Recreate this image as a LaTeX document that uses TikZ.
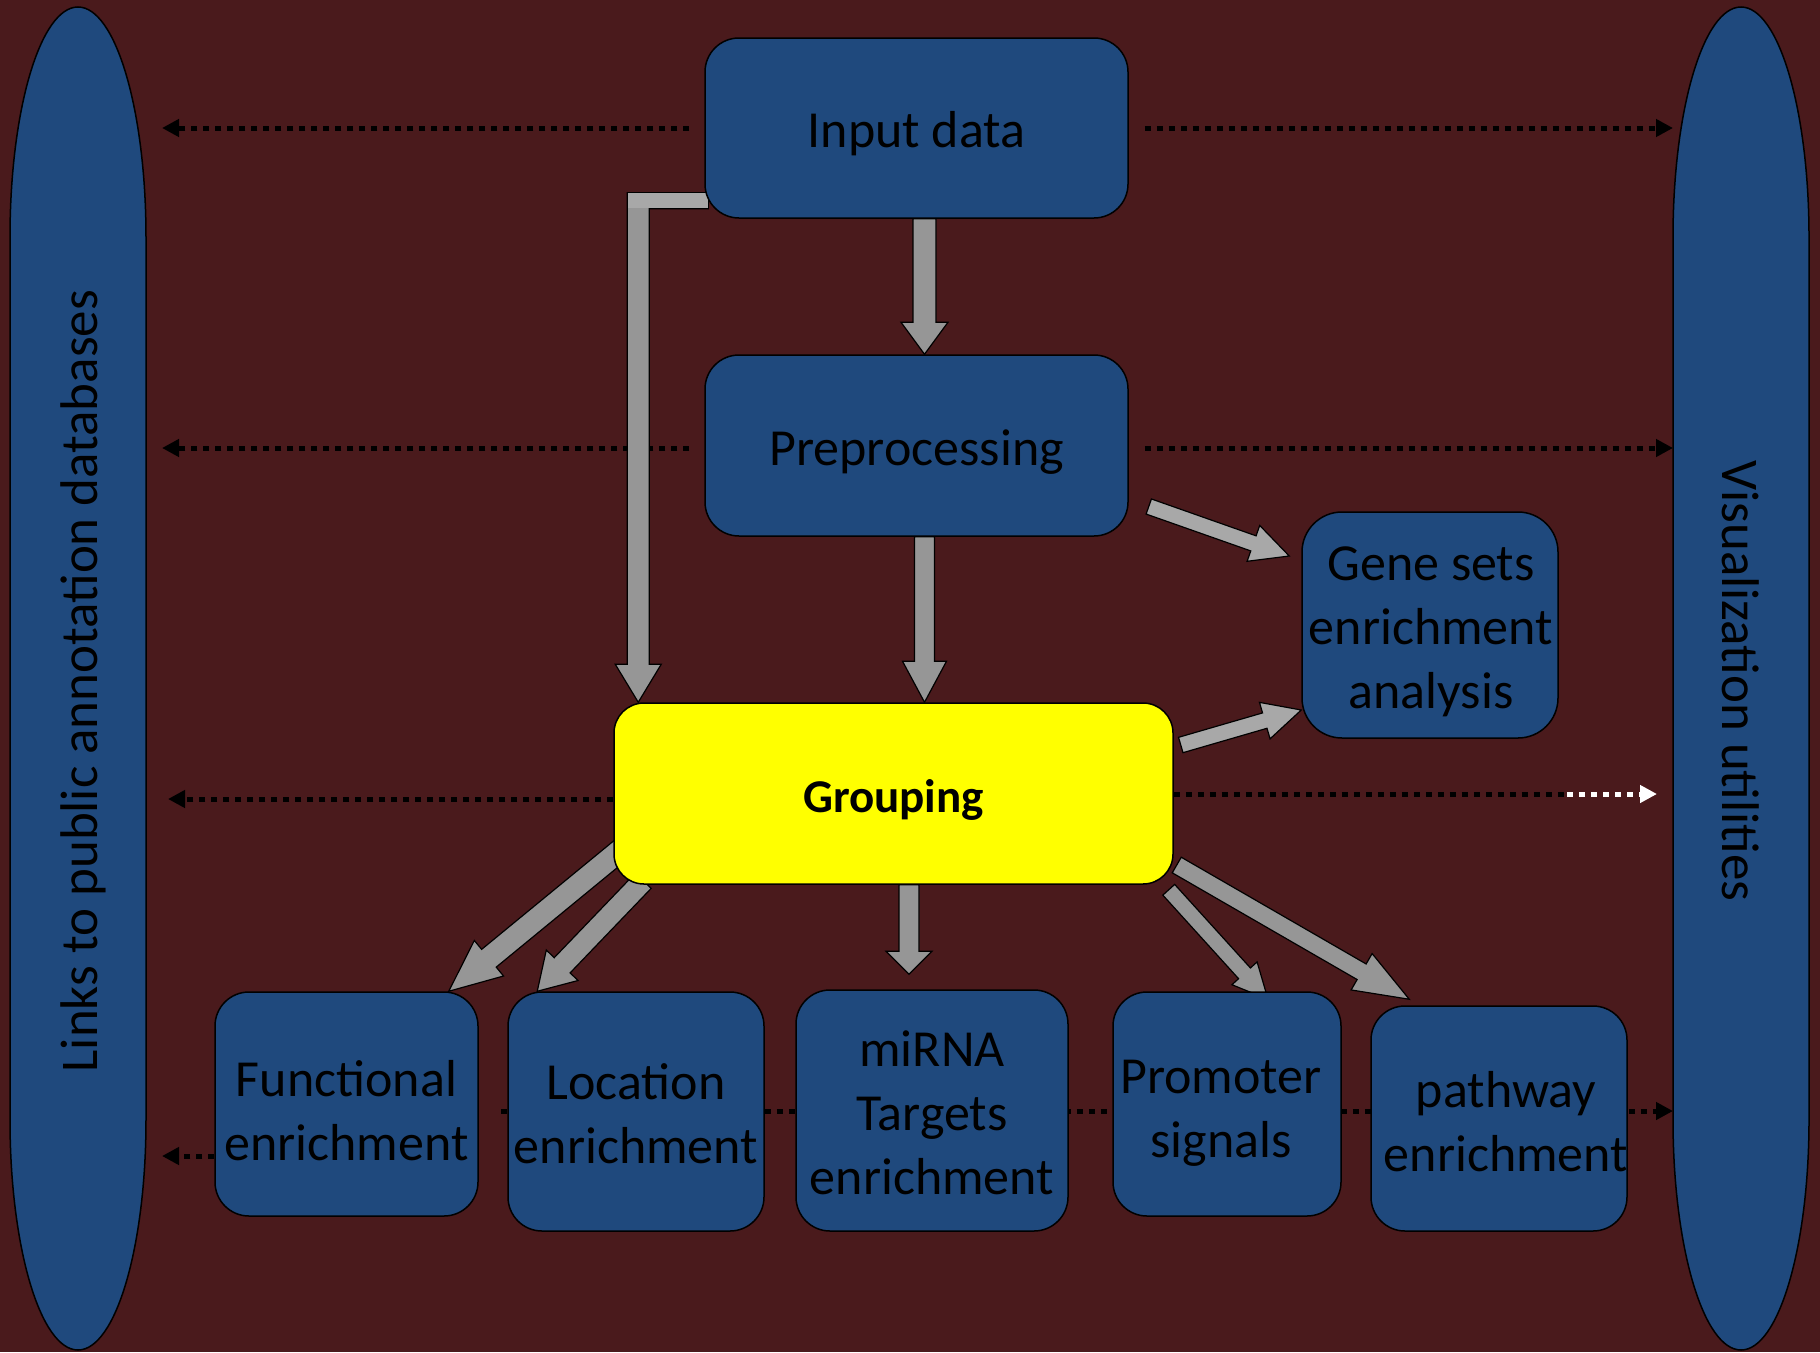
\documentclass[tikz,border=0pt]{standalone}
\usepackage{fontspec}
\setmainfont{Carlito}
\usetikzlibrary{calc,arrows.meta}

\definecolor{bgred}{HTML}{4A1A1C}
\definecolor{boxblue}{HTML}{1F497D}
\definecolor{arrgray}{HTML}{969696}
\definecolor{arrlight}{HTML}{A8A8A8}
\definecolor{grpyellow}{HTML}{FFFF00}

\pgfdeclarelayer{bg}
\pgfdeclarelayer{links}
\pgfsetlayers{bg,links,main}

\newcommand\boxfont{\fontsize{52}{64}\selectfont}
\newcommand\sidefont{\fontsize{53}{64}\selectfont}
\newcommand\grpfont{\fontsize{47}{56}\selectfont\bfseries}

% Block arrow: [fill] {shaft half width}{head half width}{head length}{tail}{tip}
\newcommand\blockarrow[6][arrgray]{%
  \coordinate (baT) at #5;
  \coordinate (baP) at #6;
  \coordinate (baH) at ($(baP)!#4!(baT)$);
  \filldraw[fill=#1, draw=black, line width=1.2pt, line join=miter]
    ($(baT)!#2!90:(baP)$) -- ($(baH)!#2!90:(baP)$) -- ($(baH)!#3!90:(baP)$)
    -- (baP)
    -- ($(baH)!#3!-90:(baP)$) -- ($(baH)!#2!-90:(baP)$) -- ($(baT)!#2!-90:(baP)$)
    -- cycle;
}

\begin{document}
\begin{tikzpicture}[x=1pt, y=-1pt,
  box/.style={draw=black, line width=1.5pt, fill=boxblue, rounded corners=34pt, inner sep=0pt},
  grpbox/.style={box, fill=grpyellow, rounded corners=30pt},
  lbl/.style={align=center, inner sep=0pt, font=\boxfont, text=black},
  grplbl/.style={lbl, font=\grpfont},
  sidebar/.style={fill=boxblue, draw=black, line width=1.5pt},
  sidetext/.style={font=\sidefont, text=black, inner sep=0pt},
  dotline/.style={line width=5pt, dash pattern=on 6pt off 6pt, line cap=butt},
  dottip/.style={-{Triangle[length=17pt,width=17pt]}},
]
\useasboundingbox (0,0) rectangle (1820,1352);

% background and the two side bars
\begin{pgfonlayer}{bg}
  \fill[bgred] (0,0) rectangle (1820,1352);
  \filldraw[sidebar] (146,237) arc[start angle=0, end angle=180, x radius=68pt, y radius=230pt]
    -- (10,1120) arc[start angle=180, end angle=360, x radius=68pt, y radius=230pt] -- cycle;
  \filldraw[sidebar] (1809,237) arc[start angle=0, end angle=180, x radius=68pt, y radius=230pt]
    -- (1673,1120) arc[start angle=180, end angle=360, x radius=68pt, y radius=230pt] -- cycle;
  \node[sidetext, rotate=90] (lnk) at (83,681) {Links to public annotation databases};
  \node[sidetext, rotate=-90] (vis) at (1741,681) {Visualization utilities};
\end{pgfonlayer}

% free ends of the dotted links at the side bars
\coordinate (L1) at (162,128);
\coordinate (L2) at (162,448);
\coordinate (L3) at (168,799);
\coordinate (L4) at (162,1156);
\coordinate (R1) at (1673,128);
\coordinate (R2) at (1673,448);
\coordinate (R3) at (1657,794);
\coordinate (R3w) at (1567,794);
\coordinate (R4) at (1673,1111);

% process boxes
\node[box, minimum width=423pt, minimum height=180pt] (inp) at (916.5,128) {};
\node[box, minimum width=423pt, minimum height=181pt] (pre) at (916.5,445.5) {};
\node[box, minimum width=256pt, minimum height=226pt, rounded corners=40pt] (gsea) at (1430,625) {};
\node[grpbox, minimum width=559pt, minimum height=181pt] (grp) at (893.5,793.5) {};
\node[box, minimum width=263pt, minimum height=224pt] (fun) at (346.5,1104) {};
\node[box, minimum width=256pt, minimum height=239pt] (loc) at (636,1111.5) {};
\node[box, minimum width=272pt, minimum height=241pt] (mir) at (932,1110.5) {};
\node[box, minimum width=228pt, minimum height=224pt] (pro) at (1227,1104) {};
\node[box, minimum width=256pt, minimum height=225pt] (pat) at (1499,1118.5) {};

% box texts
\node[lbl] (inpT) at ($(inp)+(0,6)$) {Input data};
\node[lbl] (preT) at ($(pre)+(0,7)$) {Preprocessing};
\node[lbl] (gseaT) at ($(gsea)+(1,7)$) {Gene sets\\enrichment\\analysis};
\node[grplbl] (grpT) at ($(grp)+(0,6)$) {Grouping};
\node[lbl] (funT) at ($(fun)+(0,7)$) {Functional\\enrichment};
\node[lbl] (locT) at ($(loc)+(0,2)$) {Location\\enrichment};
\node[lbl] (mirT) at ($(mir)+(0,2)$) {miRNA\\Targets\\enrichment};
\node[lbl] (proT) at ($(pro)+(-6,9)$) {Promoter\\signals};
\node[lbl] (patT) at ($(pat)+(7,3)$) {pathway\\enrichment};

\begin{pgfonlayer}{links}
  % dotted links to the side bars
  \draw[dotline, dottip] ($(inp.west)+(-15,0)$) -- (L1);
  \draw[dotline, dottip] ($(inp.east)+(16,0)$) -- (R1);
  \draw[dotline, dottip] ($(pre.west)+(-15,2.5)$) -- (L2);
  \draw[dotline, dottip] ($(pre.east)+(16,2.5)$) -- (R2);
  \draw[dotline, dottip] ($(grp.west)+(0,5.5)$) -- (L3);
  \draw[dotline] ($(grp.east)+(0,0.5)$) -- (R3w);
  \draw[dotline, dottip, white] (R3w) -- (R3);
  \draw[dotline, dottip] ($(fun.west)+(0,52)$) -- (L4);
  \draw[dotline, dottip] ($(fun.east)+(22,7)$) -- (R4);

  % block arrows between the boxes
  \coordinate (pc) at ($(pre.south)+(8,0)$);
  \blockarrow{11.5pt}{23.5pt}{32pt}{($(inp.south)+(8,0)$)}{($(pre.north)+(8,0)$)}
  \blockarrow{10pt}{22pt}{41pt}{(pc)}{(pc |- grp.north)}
  \blockarrow{10pt}{23pt}{23pt}{($(grp.south)+(15.5,0)$)}{($(mir.north)+(-23,-15)$)}
  \blockarrow[arrlight]{8pt}{19pt}{38pt}{($(pre.east)+(20,61)$)}{($(gsea.west)+(-12,-69)$)}
  \blockarrow[arrlight]{8pt}{19pt}{38pt}{($(grp.east)+(7,-48.5)$)}{($(gsea.west)+(0,85)$)}
  \blockarrow{11.5pt}{23pt}{52pt}{($(grp.west)+(8,56)$)}{($(fun.north east)+(-30,0)$)}
  \blockarrow{11pt}{22pt}{36pt}{($(grp.south west)+(30,-4)$)}{($(loc.north west)+(30,0)$)}
  \blockarrow{8pt}{17pt}{35pt}{($(grp.south east)+(-5,5)$)}{($(pro.north)+(41,8)$)}
  \blockarrow{9pt}{21pt}{55pt}{($(grp.east)+(3,71.5)$)}{($(pat.north west)+(39,-6)$)}

  % elbow arrow from the input box straight to the grouping box
  \coordinate (es) at ($(inp.south west)+(4,-18)$);
  \coordinate (et) at ($(grp.north west)+(25,0)$);
  \filldraw[fill=arrgray, draw=black, line width=1.2pt, line join=miter]
    ($(es)+(0,-8)$) -- ($(et |- es)+(-11,-8)$) -- ($(et)+(-11,-38)$) -- ($(et)+(-23,-38)$)
    -- (et) -- ($(et)+(23,-38)$) -- ($(et)+(11,-38)$) -- ($(et |- es)+(11,8)$)
    -- ($(es)+(0,8)$) -- cycle;
  \fill[arrlight] ($(et |- es)+(-10.4,-7.4)$) rectangle ($(es)+(0,7.4)$);
\end{pgfonlayer}
\end{tikzpicture}
\end{document}
